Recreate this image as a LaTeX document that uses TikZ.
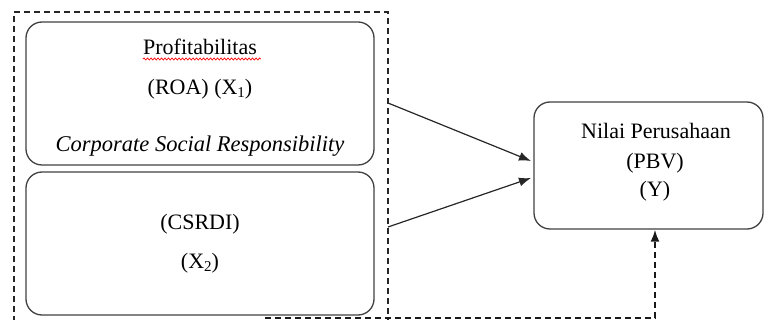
\documentclass[tikz,border=0pt]{standalone}
\usepackage{fontspec}
\setmainfont{Liberation Serif}
\usetikzlibrary{arrows.meta,decorations.pathmorphing}
\newcommand{\lowsub}[1]{\raisebox{-0.12em}{\fontsize{15}{15}\selectfont #1}}
\tikzset{
  roundbox/.style={draw=black!75, line width=1.3pt, rounded corners=16pt, inner sep=0pt},
  txt/.style={font=\fontsize{22}{25}\selectfont, inner sep=0pt, anchor=base},
  grpbox/.style={draw=black!85, line width=1.5pt, dash pattern=on 6pt off 4pt},
  conn/.style={draw=black!85, line width=1.2pt, -{Latex[length=12pt,width=9pt]}},
  dconn/.style={draw=black!90, line width=2pt, dash pattern=on 6pt off 4pt, -{Latex[length=12pt,width=9pt]}},
}
\begin{document}
\begin{tikzpicture}[x=1pt,y=-1pt]
\useasboundingbox (0,0) rectangle (764,320);
\clip (0,0) rectangle (764,320);
% group dashed box
\node[grpbox, minimum width=374pt, minimum height=318pt, inner sep=0pt] (grp) at (201,171) {};
% boxes
\node[roundbox, minimum width=348pt, minimum height=143pt] (b1) at (200,93.5) {};
\node[roundbox, minimum width=348pt, minimum height=143pt] (b2) at (200,243.5) {};
\node[roundbox, minimum width=229pt, minimum height=127pt] (b3) at (648.5,165.5) {};
% texts
\node[txt] (t1) at (200,55) {Profitabilitas};
\node[txt] (t2) at (200,95) {(ROA) (X\lowsub{1})};
\node[txt, font=\fontsize{22.5}{25}\selectfont\itshape] (t3) at (200,152) {Corporate Social Responsibility};
\node[txt] (t4) at (200,230) {(CSRDI)};
\node[txt] (t5) at (200,269) {(X\lowsub{2})};
\node[txt] (t6) at (656,139) {Nilai Perusahaan};
\node[txt] (t7) at (655,169) {(PBV)};
\node[txt] (t8) at (655,197) {(Y)};
% spell-check underline
\draw[red, line width=0.7pt, decorate, decoration={snake, amplitude=1pt, segment length=3.5pt}] (t1.base west) ++(0,4) -- ++(118,0);
% connectors
\coordinate (s1) at (388,103);
\coordinate (s2) at (388,227);
\coordinate (e1) at (531,161);
\coordinate (e2) at (531,178);
\draw[conn] (s1) -- (e1);
\draw[conn] (s2) -- (e2);
\coordinate (d0) at (265,318);
\coordinate (d1) at (655,318);
\draw[dconn] (d0) -- (d1) -- (d1 |- b3.south);
\end{tikzpicture}
\end{document}
